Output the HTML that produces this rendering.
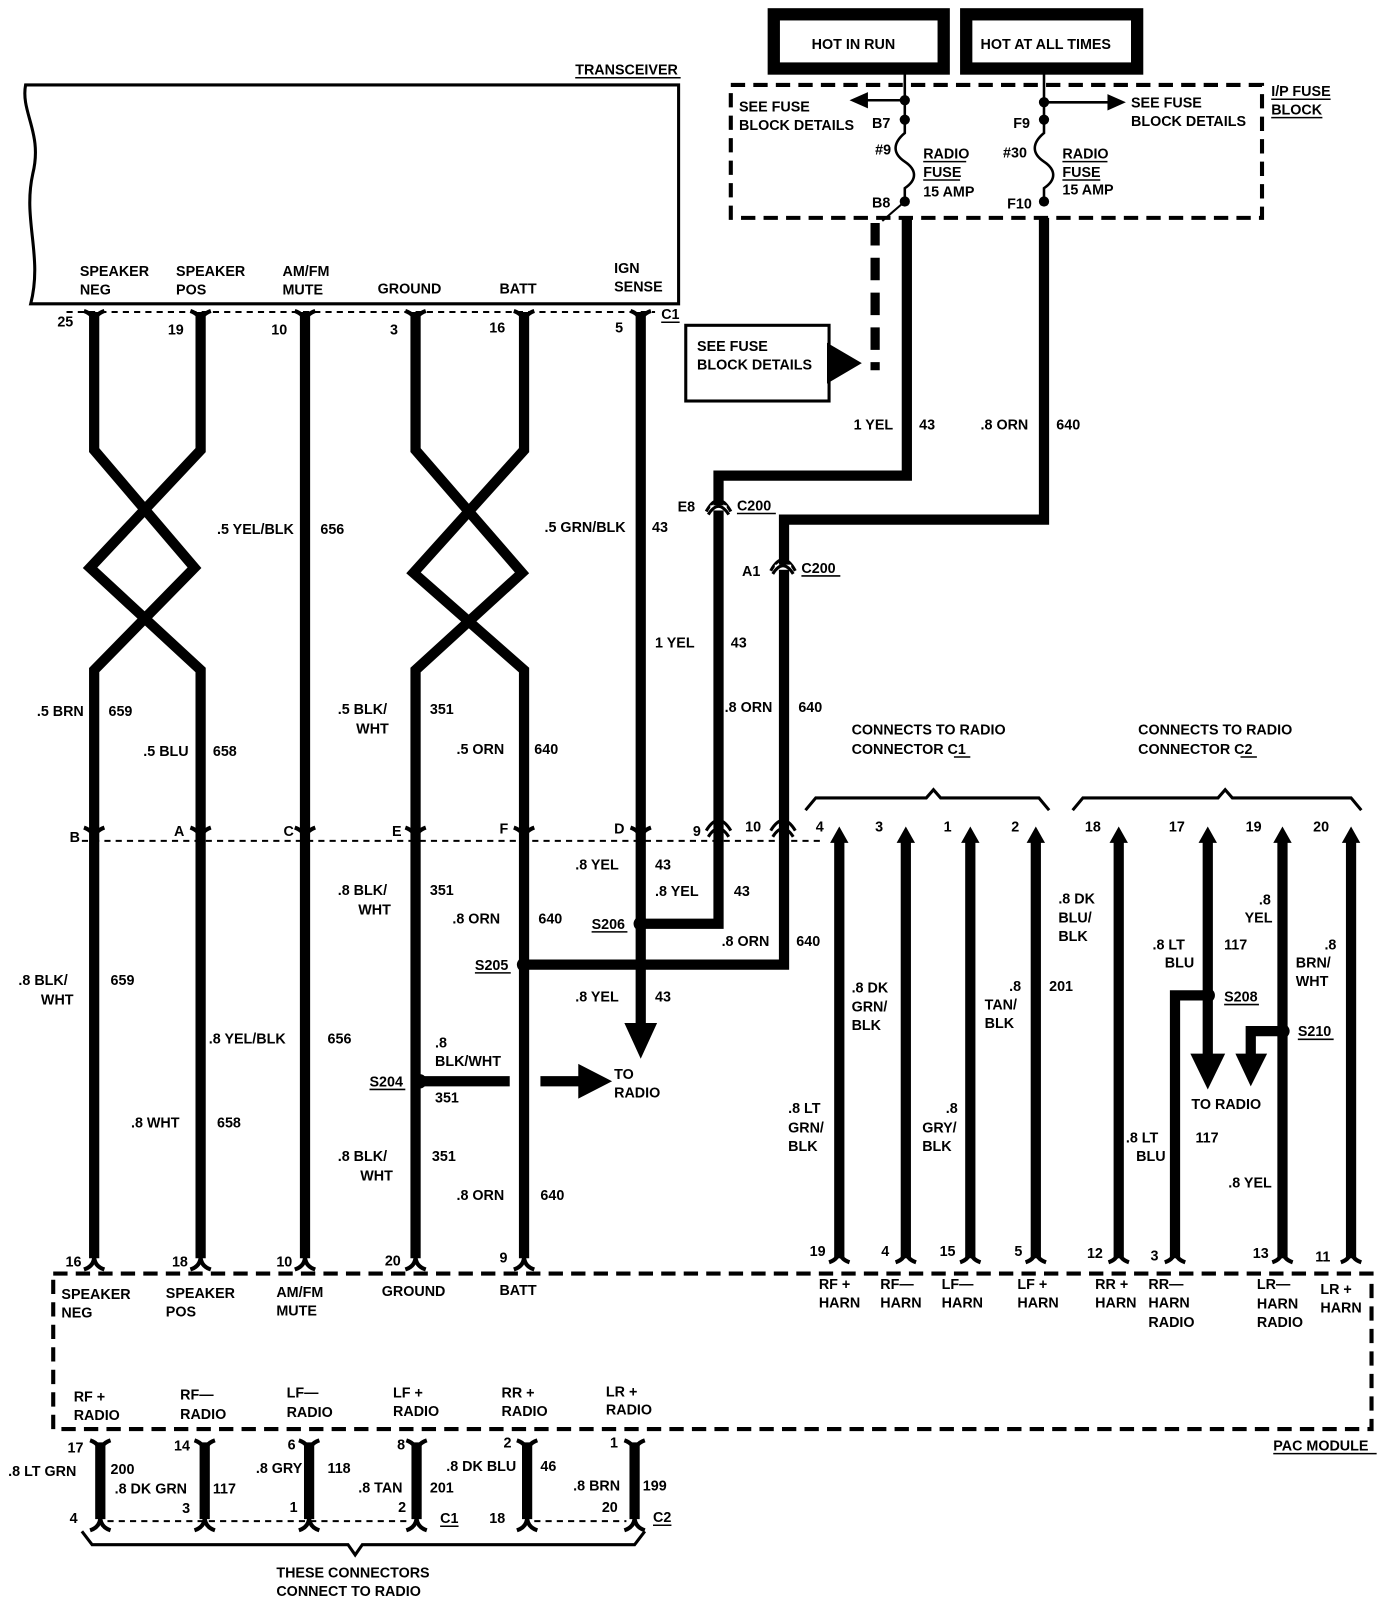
<!DOCTYPE html>
<html><head><meta charset="utf-8"><style>
html,body{margin:0;padding:0;background:#fff}
svg{display:block}
text{font-family:"Liberation Sans Narrow","Liberation Sans",sans-serif;font-weight:bold;font-size:14px;fill:#000}
</style></head><body>
<svg width="1392" height="1604" viewBox="0 0 1360 1568" preserveAspectRatio="none" xmlns="http://www.w3.org/2000/svg">
<defs>
<path id="fy" d="M-10,-9 C-4,-7 0,-3 0,4 M10,-9 C4,-7 0,-3 0,4" fill="none" stroke="#000" stroke-width="4"/>
<path id="fa" d="M-10,9 C-4,7 0,3 0,-4 M10,9 C4,7 0,3 0,-4" fill="none" stroke="#000" stroke-width="4"/>
<path id="up" d="M-9,12 L0,-4 L9,12 Z" fill="#000"/>
</defs>

<!-- transceiver -->
<path d="M25,83 L663,83 L663,297 L30,297 C42,250 22,215 32,170 C42,130 20,110 25,83 Z" fill="none" stroke="#000" stroke-width="3"/>
<text x="562" y="73" font-size="13">TRANSCEIVER</text><line x1="562" y1="76" x2="665" y2="76" stroke="#000" stroke-width="1.5"/>
<text x="78" y="270">SPEAKER</text><text x="78" y="288">NEG</text>
<text x="172" y="270">SPEAKER</text><text x="172" y="288">POS</text>
<text x="276" y="270">AM/FM</text><text x="276" y="288">MUTE</text>
<text x="369" y="287">GROUND</text>
<text x="488" y="287">BATT</text>
<text x="600" y="267">IGN</text><text x="600" y="285">SENSE</text>
<line x1="65" y1="305" x2="640" y2="305" stroke="#000" stroke-width="2" stroke-dasharray="6 5"/>
<text x="646" y="312">C1</text><line x1="646" y1="315" x2="664" y2="315" stroke="#000" stroke-width="1.5"/>
<text x="56" y="319">25</text><text x="164" y="327">19</text><text x="265" y="327">10</text><text x="381" y="327">3</text><text x="478" y="325">16</text><text x="601" y="325">5</text>

<!-- HOT boxes -->
<rect x="756" y="14" width="166" height="53" fill="none" stroke="#000" stroke-width="12"/>
<rect x="944" y="14" width="167" height="53" fill="none" stroke="#000" stroke-width="12"/>
<text x="793" y="48">HOT  IN  RUN</text>
<text x="958" y="48">HOT AT ALL TIMES</text>

<!-- fuse block -->
<rect x="714" y="83" width="519" height="130" fill="none" stroke="#000" stroke-width="4" stroke-dasharray="14 8"/>
<text x="1242" y="94">I/P FUSE</text><text x="1242" y="112">BLOCK</text>
<line x1="1242" y1="97" x2="1300" y2="97" stroke="#000" stroke-width="1.5"/><line x1="1242" y1="115" x2="1292" y2="115" stroke="#000" stroke-width="1.5"/>
<path d="M884,67 V130 C872,140 872,150 884,158 C896,166 896,176 884,184 V200" fill="none" stroke="#000" stroke-width="2.5"/>
<path d="M1020,67 V130 C1008,140 1008,150 1020,158 C1032,166 1032,176 1020,184 V200" fill="none" stroke="#000" stroke-width="2.5"/>
<circle cx="884" cy="98" r="5"/><circle cx="884" cy="117" r="5"/><circle cx="884" cy="197" r="5"/>
<circle cx="1020" cy="100" r="5"/><circle cx="1020" cy="117" r="5"/><circle cx="1020" cy="197" r="5"/>
<line x1="884" y1="98" x2="845" y2="98" stroke="#000" stroke-width="2.5"/><path d="M830,98 L848,90 L848,106 Z"/>
<line x1="1020" y1="100" x2="1085" y2="100" stroke="#000" stroke-width="2.5"/><path d="M1100,100 L1082,92 L1082,108 Z"/>
<text x="722" y="109">SEE FUSE</text><text x="722" y="127">BLOCK DETAILS</text>
<text x="1105" y="105">SEE FUSE</text><text x="1105" y="123">BLOCK DETAILS</text>
<text x="852" y="125">B7</text><text x="855" y="151">#9</text><text x="852" y="203">B8</text>
<text x="990" y="125">F9</text><text x="980" y="154">#30</text><text x="984" y="204">F10</text>
<text x="902" y="155">RADIO</text><text x="902" y="173">FUSE</text><text x="902" y="192">15  AMP</text>
<line x1="902" y1="158" x2="944" y2="158" stroke="#000" stroke-width="1.5"/><line x1="902" y1="176" x2="938" y2="176" stroke="#000" stroke-width="1.5"/>
<text x="1038" y="155">RADIO</text><text x="1038" y="173">FUSE</text><text x="1038" y="190">15 AMP</text>
<line x1="1038" y1="158" x2="1082" y2="158" stroke="#000" stroke-width="1.5"/><line x1="1038" y1="176" x2="1075" y2="176" stroke="#000" stroke-width="1.5"/>
<line x1="884" y1="197" x2="862" y2="216" stroke="#000" stroke-width="2"/>

<!-- see fuse box -->
<line x1="855" y1="218" x2="855" y2="362" stroke="#000" stroke-width="9" stroke-dasharray="22 12"/>
<rect x="670" y="318" width="140" height="74" fill="none" stroke="#000" stroke-width="3"/>
<path d="M808,335 L842,355 L808,375 Z"/>
<text x="681" y="343">SEE  FUSE</text><text x="681" y="361">BLOCK  DETAILS</text>

<!-- power wires -->
<g fill="none" stroke="#000" stroke-width="10" stroke-linejoin="miter">
<path d="M886,213 V465 H702 V903 H626"/>
<path d="M1020,213 V508 H766 V943 H512"/>
<path d="M92,305 V440 L190,555 L92,655 V1230"/>
<path d="M196,305 V440 L88,555 L196,655 V1230"/>
<path d="M298,305 V1230"/>
<path d="M406,305 V440 L510,560 L406,655 V1230"/>
<path d="M512,305 V440 L404,560 L512,655 V1230"/>
<path d="M626,305 V1005"/>
<path d="M410,1057 H498"/>
<path d="M528,1057 H570"/>
<path d="M820,822 V1230 M885,822 V1230 M948,822 V1230 M1012,822 V1230 M1093,822 V1230 M1253,822 V1230 M1320,822 V1230"/>
<path d="M1180,822 V1035 M1180,973 H1148 V1230"/>
<path d="M1253,1008 H1222 V1035"/>
<path d="M98,1410 V1485 M200,1410 V1485 M302,1410 V1485 M407,1410 V1485 M515,1410 V1485 M620,1410 V1485"/>
</g>
<path d="M610,1000 L642,1000 L626,1035 Z"/>
<path d="M565,1040 L598,1057 L565,1074 Z"/>
<path d="M1163,1030 L1197,1030 L1180,1065 Z"/>
<path d="M1207,1030 L1238,1030 L1222,1062 Z"/>
<circle cx="626" cy="903" r="7"/><circle cx="512" cy="943" r="7"/><circle cx="410" cy="1057" r="7"/>
<circle cx="1180" cy="973" r="7"/><circle cx="1253" cy="1008" r="7"/>

<!-- C200 -->
<g fill="none" stroke="#000" stroke-width="3"><path d="M690,500 Q702,478 714,500"/><path d="M753,558 Q765,536 777,558"/></g>
<rect x="694" y="494" width="16" height="5" fill="#fff"/><rect x="757" y="552" width="16" height="5" fill="#fff"/>
<g fill="none" stroke="#000" stroke-width="3"><path d="M692,503 Q702,487 712,503"/><path d="M755,561 Q765,545 775,561"/></g>
<text x="662" y="500">E8</text><text x="720" y="499">C200</text><line x1="720" y1="502" x2="758" y2="502" stroke="#000" stroke-width="1.5"/>
<text x="725" y="563">A1</text><text x="783" y="560">C200</text><line x1="783" y1="563" x2="821" y2="563" stroke="#000" stroke-width="1.5"/>

<!-- connector glyphs -->
<g>
<use href="#fy" x="92" y="313"/><use href="#fy" x="196" y="313"/><use href="#fy" x="298" y="313"/><use href="#fy" x="406" y="313"/><use href="#fy" x="512" y="313"/><use href="#fy" x="626" y="313"/>
<use href="#fy" x="92" y="818"/><use href="#fy" x="196" y="818"/><use href="#fy" x="298" y="818"/><use href="#fy" x="406" y="818"/><use href="#fy" x="512" y="818"/><use href="#fy" x="626" y="818"/>
<use href="#fa" x="92" y="1232"/><use href="#fa" x="196" y="1232"/><use href="#fa" x="298" y="1232"/><use href="#fa" x="406" y="1232"/><use href="#fa" x="512" y="1232"/>
<use href="#fa" x="820" y="1225"/><use href="#fa" x="885" y="1225"/><use href="#fa" x="948" y="1225"/><use href="#fa" x="1012" y="1225"/><use href="#fa" x="1093" y="1225"/><use href="#fa" x="1148" y="1225"/><use href="#fa" x="1253" y="1225"/><use href="#fa" x="1320" y="1225"/>
<use href="#up" x="820" y="812"/><use href="#up" x="885" y="812"/><use href="#up" x="948" y="812"/><use href="#up" x="1012" y="812"/><use href="#up" x="1093" y="812"/><use href="#up" x="1180" y="812"/><use href="#up" x="1253" y="812"/><use href="#up" x="1320" y="812"/>
<use href="#fy" x="98" y="1417"/><use href="#fy" x="200" y="1417"/><use href="#fy" x="302" y="1417"/><use href="#fy" x="407" y="1417"/><use href="#fy" x="515" y="1417"/><use href="#fy" x="620" y="1417"/>
<use href="#fa" x="98" y="1487"/><use href="#fa" x="200" y="1487"/><use href="#fa" x="302" y="1487"/><use href="#fa" x="407" y="1487"/><use href="#fa" x="515" y="1487"/><use href="#fa" x="620" y="1487"/>
</g>
<g fill="none" stroke="#000" stroke-width="3"><path d="M690,812 Q702,792 714,812"/><path d="M753,812 Q765,792 777,812"/></g>
<g fill="none" stroke="#000" stroke-width="3"><path d="M692,818 Q702,802 712,818"/><path d="M755,818 Q765,802 775,818"/></g>

<line x1="80" y1="822" x2="805" y2="822" stroke="#000" stroke-width="2" stroke-dasharray="6 5"/>
<text x="68" y="823">B</text><text x="170" y="817">A</text><text x="277" y="817">C</text><text x="383" y="817">E</text><text x="488" y="815">F</text><text x="600" y="815">D</text>
<text x="677" y="817">9</text><text x="728" y="813">10</text>
<text x="797" y="813">4</text><text x="855" y="813">3</text><text x="922" y="813">1</text><text x="988" y="813">2</text>
<text x="1060" y="813">18</text><text x="1142" y="813">17</text><text x="1217" y="813">19</text><text x="1283" y="813">20</text>

<!-- brackets -->
<g fill="none" stroke="#000" stroke-width="3">
<path d="M787,792 L797,780 L905,780 L912,772 L919,780 L1015,780 L1025,792"/>
<path d="M1048,792 L1058,780 L1190,780 L1197,772 L1204,780 L1320,780 L1330,792"/>
<path d="M80,1497 L90,1510 L340,1510 L347,1520 L354,1510 L620,1510 L630,1497"/>
</g>
<text x="832" y="718">CONNECTS TO RADIO</text><text x="832" y="737">CONNECTOR C1</text><line x1="932" y1="740" x2="948" y2="740" stroke="#000" stroke-width="1.5"/>
<text x="1112" y="718">CONNECTS TO RADIO</text><text x="1112" y="737">CONNECTOR C2</text><line x1="1212" y1="740" x2="1228" y2="740" stroke="#000" stroke-width="1.5"/>

<!-- wire labels -->
<text x="834" y="420">1 YEL</text><text x="898" y="420">43</text>
<text x="958" y="420">.8 ORN</text><text x="1032" y="420">640</text>
<text x="212" y="522">.5 YEL/BLK</text><text x="313" y="522">656</text>
<text x="532" y="520">.5 GRN/BLK</text><text x="637" y="520">43</text>
<text x="640" y="633">1  YEL</text><text x="714" y="633">43</text>
<text x="708" y="696">.8 ORN</text><text x="780" y="696">640</text>
<text x="36" y="700">.5 BRN</text><text x="106" y="700">659</text>
<text x="140" y="739">.5 BLU</text><text x="208" y="739">658</text>
<text x="330" y="698">.5  BLK/</text><text x="348" y="717">WHT</text><text x="420" y="698">351</text>
<text x="446" y="737">.5  ORN</text><text x="522" y="737">640</text>
<text x="562" y="850">.8  YEL</text><text x="640" y="850">43</text>
<text x="640" y="876">.8  YEL</text><text x="717" y="876">43</text>
<text x="330" y="875">.8  BLK/</text><text x="350" y="894">WHT</text><text x="420" y="875">351</text>
<text x="442" y="903">.8  ORN</text><text x="526" y="903">640</text>
<text x="578" y="908">S206</text><line x1="578" y1="911" x2="613" y2="911" stroke="#000" stroke-width="1.5"/>
<text x="464" y="948">S205</text><line x1="464" y1="951" x2="499" y2="951" stroke="#000" stroke-width="1.5"/>
<text x="705" y="925">.8 ORN</text><text x="778" y="925">640</text>
<text x="562" y="979">.8  YEL</text><text x="640" y="979">43</text>
<text x="600" y="1055">TO</text><text x="600" y="1073">RADIO</text>
<text x="18" y="963">.8  BLK/</text><text x="40" y="982">WHT</text><text x="108" y="963">659</text>
<text x="204" y="1020">.8  YEL/BLK</text><text x="320" y="1020">656</text>
<text x="425" y="1024">.8</text><text x="425" y="1042">BLK/WHT</text><text x="425" y="1078">351</text>
<text x="361" y="1062">S204</text><line x1="361" y1="1065" x2="396" y2="1065" stroke="#000" stroke-width="1.5"/>
<text x="128" y="1102">.8  WHT</text><text x="212" y="1102">658</text>
<text x="330" y="1135">.8  BLK/</text><text x="352" y="1154">WHT</text><text x="422" y="1135">351</text>
<text x="446" y="1173">.8  ORN</text><text x="528" y="1173">640</text>
<text x="832" y="970">.8  DK</text><text x="832" y="989">GRN/</text><text x="832" y="1007">BLK</text>
<text x="986" y="969">.8</text><text x="962" y="987">TAN/</text><text x="962" y="1005">BLK</text><text x="1025" y="969">201</text>
<text x="1034" y="883">.8  DK</text><text x="1034" y="902">BLU/</text><text x="1034" y="920">BLK</text>
<text x="770" y="1088">.8  LT</text><text x="770" y="1107">GRN/</text><text x="770" y="1125">BLK</text>
<text x="924" y="1088">.8</text><text x="901" y="1107">GRY/</text><text x="901" y="1125">BLK</text>
<text x="1126" y="928">.8  LT</text><text x="1138" y="946">BLU</text><text x="1196" y="928">117</text>
<text x="1230" y="884">.8</text><text x="1216" y="902">YEL</text>
<text x="1294" y="928">.8</text><text x="1266" y="946">BRN/</text><text x="1266" y="964">WHT</text>
<text x="1268" y="1013">S210</text><line x1="1268" y1="1016" x2="1303" y2="1016" stroke="#000" stroke-width="1.5"/>
<text x="1196" y="979">S208</text><line x1="1196" y1="982" x2="1230" y2="982" stroke="#000" stroke-width="1.5"/>
<text x="1164" y="1084">TO RADIO</text>
<text x="1100" y="1117">.8  LT</text><text x="1110" y="1135">BLU</text><text x="1168" y="1117">117</text>
<text x="1200" y="1161">.8 YEL</text>

<!-- PAC module -->
<rect x="52" y="1245" width="1288" height="152" fill="none" stroke="#000" stroke-width="4" stroke-dasharray="14 8"/>
<text x="1244" y="1418" font-size="13">PAC MODULE</text><line x1="1244" y1="1421" x2="1345" y2="1421" stroke="#000" stroke-width="1.5"/>
<text x="64" y="1238">16</text><text x="168" y="1238">18</text><text x="270" y="1238">10</text><text x="376" y="1237">20</text><text x="488" y="1234">9</text>
<text x="60" y="1270">SPEAKER</text><text x="60" y="1288">NEG</text>
<text x="162" y="1269">SPEAKER</text><text x="162" y="1287">POS</text>
<text x="270" y="1268">AM/FM</text><text x="270" y="1286">MUTE</text>
<text x="373" y="1267">GROUND</text>
<text x="488" y="1266">BATT</text>
<text x="791" y="1228">19</text><text x="861" y="1228">4</text><text x="918" y="1228">15</text><text x="991" y="1228">5</text><text x="1062" y="1230">12</text><text x="1124" y="1232">3</text><text x="1224" y="1230">13</text><text x="1285" y="1233">11</text>
<text x="800" y="1260">RF +</text><text x="800" y="1278">HARN</text>
<text x="860" y="1260">RF—</text><text x="860" y="1278">HARN</text>
<text x="920" y="1260">LF—</text><text x="920" y="1278">HARN</text>
<text x="994" y="1260">LF +</text><text x="994" y="1278">HARN</text>
<text x="1070" y="1260">RR +</text><text x="1070" y="1278">HARN</text>
<text x="1122" y="1260">RR—</text><text x="1122" y="1278">HARN</text><text x="1122" y="1297">RADIO</text>
<text x="1228" y="1260">LR—</text><text x="1228" y="1279">HARN</text><text x="1228" y="1297">RADIO</text>
<text x="1290" y="1265">LR +</text><text x="1290" y="1283">HARN</text>
<text x="72" y="1370">RF +</text><text x="72" y="1388">RADIO</text>
<text x="176" y="1368">RF—</text><text x="176" y="1387">RADIO</text>
<text x="280" y="1366">LF—</text><text x="280" y="1385">RADIO</text>
<text x="384" y="1366">LF +</text><text x="384" y="1384">RADIO</text>
<text x="490" y="1366">RR +</text><text x="490" y="1384">RADIO</text>
<text x="592" y="1365">LR +</text><text x="592" y="1383">RADIO</text>
<text x="66" y="1420">17</text><text x="170" y="1418">14</text><text x="281" y="1417">6</text><text x="388" y="1417">8</text><text x="492" y="1415">2</text><text x="596" y="1415">1</text>
<text x="8" y="1443">.8  LT  GRN</text><text x="108" y="1441">200</text>
<text x="112" y="1460">.8 DK GRN</text><text x="208" y="1460">117</text>
<text x="250" y="1440">.8 GRY</text><text x="320" y="1440">118</text>
<text x="350" y="1459">.8 TAN</text><text x="420" y="1459">201</text>
<text x="436" y="1438">.8 DK BLU</text><text x="528" y="1438">46</text>
<text x="560" y="1457">.8 BRN</text><text x="628" y="1457">199</text>
<text x="68" y="1489">4</text><text x="178" y="1479">3</text><text x="283" y="1478">1</text><text x="389" y="1478">2</text><text x="478" y="1489">18</text><text x="588" y="1478">20</text>
<line x1="105" y1="1487" x2="400" y2="1487" stroke="#000" stroke-width="2" stroke-dasharray="6 5"/>
<line x1="522" y1="1487" x2="612" y2="1487" stroke="#000" stroke-width="2" stroke-dasharray="6 5"/>
<text x="430" y="1489">C1</text><line x1="430" y1="1492" x2="448" y2="1492" stroke="#000" stroke-width="1.5"/>
<text x="638" y="1488">C2</text><line x1="638" y1="1491" x2="656" y2="1491" stroke="#000" stroke-width="1.5"/>
<text x="270" y="1542">THESE CONNECTORS</text><text x="270" y="1560">CONNECT TO RADIO</text>
</svg>
</body></html>
